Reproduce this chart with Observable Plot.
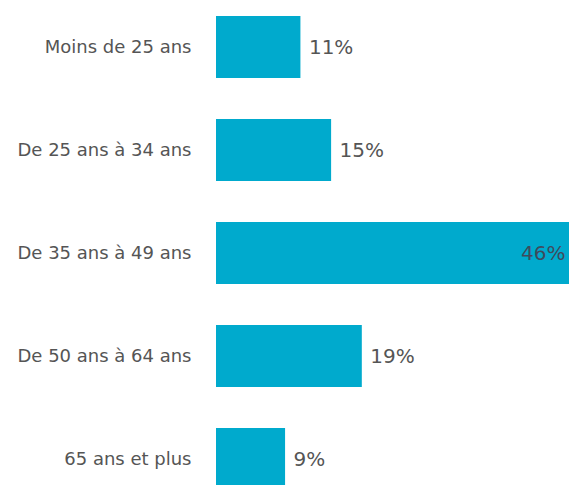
<!DOCTYPE html>
<html><head><meta charset="utf-8">
<script src="https://cdn.jsdelivr.net/npm/d3@7"></script>
<script src="https://cdn.jsdelivr.net/npm/@observablehq/plot@0.6"></script>
<style>body{margin:0;background:#fff;overflow:hidden}</style>
</head><body><div id="chart"></div>
<script>
const categories = ["Moins de 25 ans","De 25 ans à 34 ans","De 35 ans à 49 ans","De 50 ans à 64 ans","65 ans et plus"];
const values = [11, 15, 46, 19, 9];
const labels = ["11%","15%","46%","19%","9%"];
const data = categories.map((c,i)=>({cat:c, v:values[i], label:labels[i]}));
const maxV = d3.max(values);
const chart = Plot.plot({
  width: 569, height: 485,
  marginLeft: 216, marginRight: 0, marginTop: 0, marginBottom: 0,
  style: {fontFamily: "DejaVu Sans", background: "#fff"},
  x: {domain: [0, maxV], axis: null},
  y: {domain: categories, range: [-5.75, 511.75], paddingInner: 0.4, paddingOuter: 0.2, label: null},
  marks: [
    Plot.barX(data, {x: "v", y: "cat", fill: "#00aacd"}),
    Plot.text(data.filter(d=>d.v!==maxV), {x: "v", y: "cat", text: "label", textAnchor: "start", dx: 8, fontSize: 20, fill: "#555"}),
    Plot.text(data.filter(d=>d.v===maxV), {x: "v", y: "cat", text: "label", textAnchor: "end", dx: -4, fontSize: 20, fill: "#3f4a5c"}),
    Plot.axisY({tickSize: 0, tickPadding: 25, fontSize: 18, color: "#555", label: null})
  ]
});
document.getElementById("chart").appendChild(chart);
</script></body></html>
